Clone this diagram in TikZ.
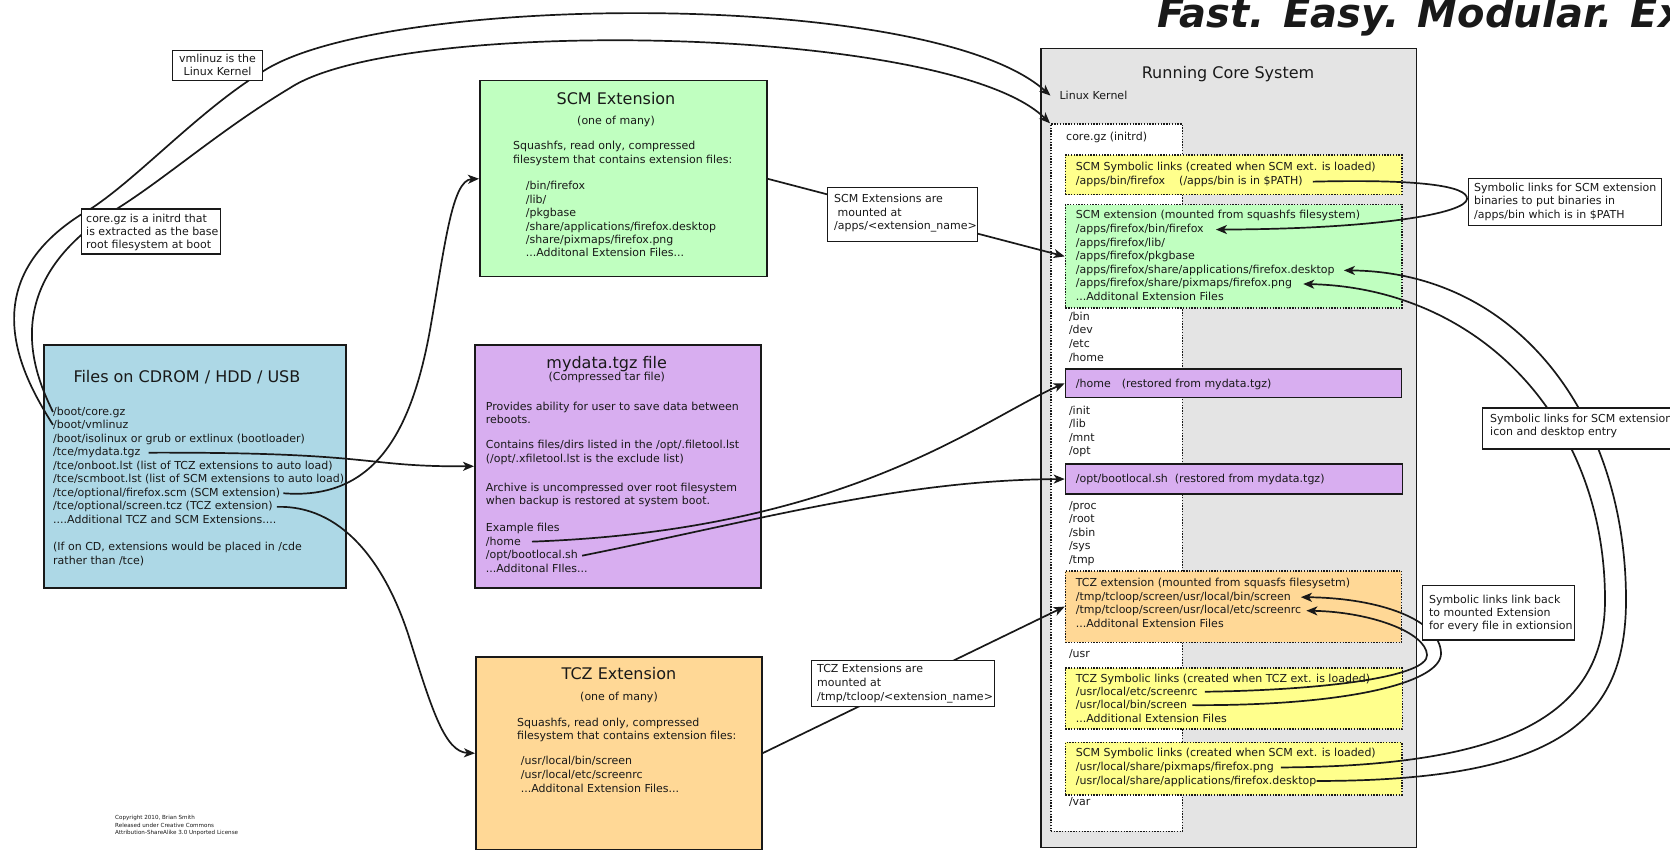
\documentclass[tikz,border=0pt]{standalone}
\usepackage{fontspec}
\setmainfont{DejaVu Sans}
\usetikzlibrary{arrows.meta}
\definecolor{cBlue}{RGB}{173,216,230}
\definecolor{cGreen}{RGB}{192,255,192}
\definecolor{cPurple}{RGB}{216,174,240}
\definecolor{cOrange}{RGB}{255,216,150}
\definecolor{cYellow}{RGB}{255,255,140}
\definecolor{cGray}{RGB}{228,228,228}
\definecolor{cInk}{RGB}{25,25,25}
\tikzset{
  bx/.style={draw=cInk, line width=1.5pt, inner sep=0pt, anchor=north west},
  dbx/.style={bx, dash pattern=on 1.4pt off 1.4pt},
  lbl/.style={bx, fill=white, line width=1.4pt},
  tx/.style={inner sep=0pt, anchor=base west, font=\fontsize{11}{13}\selectfont, text=cInk},
  tc/.style={tx, anchor=base},
  tt/.style={inner sep=0pt, anchor=base, font=\fontsize{16}{19}\selectfont, text=cInk},
  con/.style={draw=cInk, line width=1.7pt},
  arr/.style={con, -{Stealth[length=11pt,width=9pt,inset=3pt]}},
}
\begin{document}
\begin{tikzpicture}[x=1pt,y=-1pt]
\useasboundingbox (0,0) rectangle (1670,850);
\clip (0,0) rectangle (1670,850);
\fill[white] (0,0) rectangle (1670,850);

% ---------- title ----------
\node[inner sep=0pt, anchor=base west, font=\fontsize{40}{47}\selectfont\bfseries\itshape, text=cInk] (title) at (1157,28) {Fast. Easy. Modular. Ex};

% ---------- main boxes ----------
\node[bx, fill=cBlue, minimum width=302pt, minimum height=243pt] (files) at (43,344) {};
\node[bx, fill=cGreen, minimum width=287pt, minimum height=196pt] (scm) at (479,80) {};
\node[bx, fill=cPurple, minimum width=286pt, minimum height=243pt] (mydata) at (474,344) {};
\node[bx, fill=cOrange, minimum width=286pt, minimum height=193pt] (tcz) at (475,656) {};
\node[bx, fill=cGray, minimum width=375.5pt, minimum height=798.5pt] (core) at (1040,48) {};
\node[dbx, fill=white, minimum width=131.7pt, minimum height=707.4pt] (cg) at (1050,123.3) {};
\node[dbx, fill=cYellow, minimum width=336.3pt, minimum height=39.7pt] (ya) at (1064.7,154.3) {};
\node[dbx, fill=cGreen, minimum width=336.3pt, minimum height=103.3pt] (gx) at (1064.7,204) {};
\node[bx, fill=cPurple, minimum width=336pt, minimum height=28.4pt] (ph) at (1064.7,368.3) {};
\node[bx, fill=cPurple, minimum width=337pt, minimum height=30pt] (po) at (1064.7,463.3) {};
\node[dbx, fill=cOrange, minimum width=336pt, minimum height=71.7pt] (ox) at (1064.7,570) {};
\node[dbx, fill=cYellow, minimum width=337pt, minimum height=61pt] (yb) at (1064.7,667.3) {};
\node[dbx, fill=cYellow, minimum width=336.3pt, minimum height=52.3pt] (yc) at (1064.7,741.7) {};

% ---------- Files box text ----------
\node[inner sep=0pt, anchor=base west, font=\fontsize{16}{19}\selectfont, text=cInk] (ftitle) at (73.3,382.5) {Files on CDROM / HDD / USB};
\node[tx] (f1) at (53,415) {/boot/core.gz};
\node[tx] (f2) at (53,428.6) {/boot/vmlinuz};
\node[tx] (f3) at (53,442.1) {/boot/isolinux or grub or extlinux (bootloader)};
\node[tx] (f4) at (53,455.7) {/tce/mydata.tgz};
\node[tx] (f5) at (53,469.2) {/tce/onboot.lst (list of TCZ extensions to auto load)};
\node[tx] (f6) at (53,482.8) {/tce/scmboot.lst (list of SCM extensions to auto load)};
\node[tx] (f7) at (53,496.3) {/tce/optional/firefox.scm (SCM extension)};
\node[tx] (f8) at (53,509.9) {/tce/optional/screen.tcz (TCZ extension)};
\node[tx] (f9) at (53,523.4) {....Additional TCZ and SCM Extensions....};
\node[tx] (f10) at (53,550.5) {(If on CD, extensions would be placed in /cde};
\node[tx] (f11) at (53,564) {rather than /tce)};

% ---------- SCM box text ----------
\node[tt] (s0) at (616,104.5) {SCM Extension};
\node[tc] (s1) at (616,124.7) {(one of many)};
\node[tx] (s2) at (513,150) {Squashfs, read only, compressed};
\node[tx] (s3) at (513,163.5) {filesystem that contains extension files:};
\node[tx] (s4) at (525.7,190) {/bin/firefox};
\node[tx] (s5) at (525.7,203.4) {/lib/};
\node[tx] (s6) at (525.7,216.8) {/pkgbase};
\node[tx] (s7) at (525.7,230.2) {/share/applications/firefox.desktop};
\node[tx] (s8) at (525.7,243.6) {/share/pixmaps/firefox.png};
\node[tx] (s9) at (525.7,257) {...Additonal Extension Files...};

% ---------- mydata box text ----------
\node[tt] (m0) at (606.7,368.2) {mydata.tgz file};
\node[tc] (m1) at (606.7,380) {(Compressed tar file)};
\node[tx] (m2) at (485.7,410) {Provides ability for user to save data between};
\node[tx] (m3) at (485.7,423.3) {reboots.};
\node[tx] (m4) at (485.7,448.7) {Contains files/dirs listed in the /opt/.filetool.lst};
\node[tx] (m5) at (485.7,462) {(/opt/.xfiletool.lst is the exclude list)};
\node[tx] (m6) at (485.7,491.3) {Archive is uncompressed over root filesystem};
\node[tx] (m7) at (485.7,504.7) {when backup is restored at system boot.};
\node[tx] (m8) at (485.7,531.3) {Example files};
\node[tx] (m9) at (485.7,545.3) {/home};
\node[tx] (m10) at (485.7,558.7) {/opt/bootlocal.sh};
\node[tx] (m11) at (485.7,572.7) {...Additonal FIles...};

% ---------- TCZ box text ----------
\node[tt] (t0) at (619,679) {TCZ Extension};
\node[tc] (t1) at (619,700) {(one of many)};
\node[tx] (t2) at (517,726.3) {Squashfs, read only, compressed};
\node[tx] (t3) at (517,739.7) {filesystem that contains extension files:};
\node[tx] (t4) at (520.7,764.7) {/usr/local/bin/screen};
\node[tx] (t5) at (520.7,778.7) {/usr/local/etc/screenrc};
\node[tx] (t6) at (520.7,792.3) {...Additonal Extension Files...};

% ---------- core system text ----------
\node[tt] (c0) at (1228,78.2) {Running Core System};
\node[tx] (lk) at (1059.4,99.7) {Linux Kernel};
\node[tx] (c1) at (1066,140.7) {core.gz (initrd)};
\node[tx] (ya1) at (1075.7,170.7) {SCM Symbolic links (created when SCM ext. is loaded)};
\node[tx] (ya2) at (1075.7,184.7) {/apps/bin/firefox\hspace{14pt}(/apps/bin is in \$PATH)};
\node[tx] (gx1) at (1075.7,219) {SCM extension (mounted from squashfs filesystem)};
\node[tx] (gx2) at (1075.7,232.6) {/apps/firefox/bin/firefox};
\node[tx] (gx3) at (1075.7,246.2) {/apps/firefox/lib/};
\node[tx] (gx4) at (1075.7,259.8) {/apps/firefox/pkgbase};
\node[tx] (gx5) at (1075.7,273.4) {/apps/firefox/share/applications/firefox.desktop};
\node[tx] (gx6) at (1075.7,287) {/apps/firefox/share/pixmaps/firefox.png};
\node[tx] (gx7) at (1075.7,300.6) {...Additonal Extension Files};
\node[tx] (d1) at (1068.8,320) {/bin};
\node[tx] (d2) at (1068.8,333.7) {/dev};
\node[tx] (d3) at (1068.8,347.4) {/etc};
\node[tx] (d4) at (1068.8,361) {/home};
\node[tx] (ph1) at (1075.7,387.3) {/home\hspace{11pt}(restored from mydata.tgz)};
\node[tx] (d5) at (1068.8,414) {/init};
\node[tx] (d6) at (1068.8,427.6) {/lib};
\node[tx] (d7) at (1068.8,441.2) {/mnt};
\node[tx] (d8) at (1068.8,454.8) {/opt};
\node[tx] (po1) at (1075.7,482.7) {/opt/bootlocal.sh\hspace{7pt}(restored from mydata.tgz)};
\node[tx] (d9) at (1068.8,509) {/proc};
\node[tx] (d10) at (1068.8,522.5) {/root};
\node[tx] (d11) at (1068.8,536) {/sbin};
\node[tx] (d12) at (1068.8,549.5) {/sys};
\node[tx] (d13) at (1068.8,563) {/tmp};
\node[tx] (ox1) at (1075.7,586.7) {TCZ extension (mounted from squasfs filesysetm)};
\node[tx] (ox2) at (1075.7,600.2) {/tmp/tcloop/screen/usr/local/bin/screen};
\node[tx] (ox3) at (1075.7,613.7) {/tmp/tcloop/screen/usr/local/etc/screenrc};
\node[tx] (ox4) at (1075.7,627.2) {...Additonal Extension Files};
\node[tx] (d14) at (1068.8,657.3) {/usr};
\node[tx] (yb1) at (1075.7,682) {TCZ Symbolic links (created when TCZ ext. is loaded)};
\node[tx] (yb2) at (1075.7,695.4) {/usr/local/etc/screenrc};
\node[tx] (yb3) at (1075.7,708.8) {/usr/local/bin/screen};
\node[tx] (yb4) at (1075.7,722.3) {...Additional Extension Files};
\node[tx] (yc1) at (1075.7,756.7) {SCM Symbolic links (created when SCM ext. is loaded)};
\node[tx] (yc2) at (1075.7,770.5) {/usr/local/share/pixmaps/firefox.png};
\node[tx] (yc3) at (1075.7,784) {/usr/local/share/applications/firefox.desktop};
\node[tx] (d15) at (1068.8,805.7) {/var};

% ---------- copyright ----------
\node[inner sep=0pt, anchor=north west, align=left, font=\fontsize{5.6}{7.7}\selectfont, text=cInk] (copy) at (115,815) {Copyright 2010, Brian Smith\\Released under Creative Commons\\Attribution-ShareAlike 3.0 Unported License};

% ---------- connectors ----------
% vmlinuz -> Linux Kernel
\draw[arr] (f2.west) .. controls (25,380) and (-35,280) .. (92,208)
  .. controls (140,176) and (200,110) .. (262,72)
  .. controls (380,-7) and (930,-12) .. ([xshift=-9pt]lk.west);
% core.gz -> initrd
\draw[arr] (f1.west) .. controls (35,375) and (-5,285) .. (115,210)
  .. controls (165,179) and (220,130) .. (290,88)
  .. controls (400,16) and (950,25) .. (cg.north west);
% mydata.tgz -> mydata box
\draw[arr] ([xshift=8pt]f4.east) .. controls (380,452) and (360,467) .. (mydata.west);
% firefox.scm -> SCM box
\draw[arr] ([xshift=3pt]f7.east) .. controls (370,500) and (410,440) .. (430,330)
  .. controls (445,245) and (452,180) .. (scm.west);
% screen.tcz -> TCZ box
\draw[arr] ([xshift=4pt]f8.east) .. controls (340,505) and (385,560) .. (410,640)
  .. controls (432,710) and (445,752) .. (tcz.west);
% SCM box -> mounted SCM extension
\draw[arr] (scm.east) -- (gx.west);
% TCZ box -> mounted TCZ extension
\draw[arr] (tcz.east) -- (ox.west);
% /home -> restored /home
\draw[arr] ([xshift=11pt]m9.east) .. controls (850,530) and (980,420) .. (ph.west);
% /opt/bootlocal.sh -> restored
\draw[arr] ([xshift=4pt]m10.east) .. controls (760,520) and (900,480) .. (po.west);
% /apps/bin/firefox loop
\draw[arr] ([xshift=10pt]ya2.east) .. controls (1420,179) and (1468,186) .. (1467,199)
  .. controls (1466,213) and (1380,229) .. ([xshift=12pt]gx2.east);
% desktop arc
\draw[arr] (yc3.east) .. controls (1560,781) and (1626,720) .. (1626,600)
  .. controls (1626,420) and (1520,272) .. ([xshift=9pt]gx5.east);
% png arc
\draw[arr] ([xshift=7pt]yc2.east) .. controls (1500,766) and (1605,720) .. (1605,600)
  .. controls (1605,420) and (1480,288) .. ([xshift=11pt]gx6.east);
% TCZ inner loop (screenrc)
\draw[arr] ([xshift=7pt]yb2.east) .. controls (1330,690) and (1428,676) .. (1427,655)
  .. controls (1426,632) and (1370,612) .. ([xshift=5pt]ox3.east);
% TCZ outer loop (screen)
\draw[arr] ([xshift=5pt]yb3.east) .. controls (1350,706) and (1442,682) .. (1441,653)
  .. controls (1440,620) and (1380,598) .. ([xshift=10pt]ox2.east);

% ---------- labels on top ----------
\node[lbl, minimum width=90pt, minimum height=30pt] (vml) at (172,50) {};
\node[tc] (vml1) at (217.5,62.3) {vmlinuz is the};
\node[tc] (vml2) at (217.5,75.7) {Linux Kernel};

\node[lbl, minimum width=139pt, minimum height=45pt] (cgl) at (81,208.3) {};
\node[tx] (cgl1) at (86,222.3) {core.gz is a initrd that};
\node[tx] (cgl2) at (86,235.7) {is extracted as the base};
\node[tx] (cgl3) at (86,249) {root filesystem at boot};

\node[lbl, minimum width=150.3pt, minimum height=53.7pt] (scml) at (826.7,187) {};
\node[tx] (scml1) at (834,202.3) {SCM Extensions are};
\node[tx] (scml2) at (834,216.3) {\hspace*{3.4pt}mounted at};
\node[tx] (scml3) at (834,230) {/apps/\textless extension\_name\textgreater};

\node[lbl, minimum width=183pt, minimum height=46pt] (tczl) at (811,660) {};
\node[tx] (tczl1) at (817,672.3) {TCZ Extensions are};
\node[tx] (tczl2) at (817,686.3) {mounted at};
\node[tx] (tczl3) at (817,700) {/tmp/tcloop/\textless extension\_name\textgreater};

\node[lbl, minimum width=192.6pt, minimum height=47.3pt] (sl1) at (1468,177.7) {};
\node[tx] (sl1a) at (1474,191.7) {Symbolic links for SCM extension};
\node[tx] (sl1b) at (1474,205) {binaries to put binaries in};
\node[tx] (sl1c) at (1474,218.3) {/apps/bin which is in \$PATH};

\node[lbl, minimum width=200pt, minimum height=41pt] (sl2) at (1482,407.3) {};
\node[tx] (sl2a) at (1490,422.3) {Symbolic links for SCM extension};
\node[tx] (sl2b) at (1490,435.5) {icon and desktop entry};

\node[lbl, minimum width=151.9pt, minimum height=54.3pt] (sl3) at (1421.8,585) {};
\node[tx] (sl3a) at (1428.8,603) {Symbolic links link back};
\node[tx] (sl3b) at (1428.8,616.3) {to mounted Extension};
\node[tx] (sl3c) at (1428.8,629.7) {for every file in extionsion};
\end{tikzpicture}
\end{document}
